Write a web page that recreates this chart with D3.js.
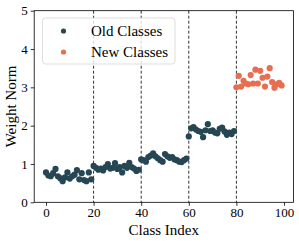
<!DOCTYPE html>
<html><head><meta charset="utf-8">
<script src="https://cdn.jsdelivr.net/npm/d3@7"></script>
</head>
<body style="margin:0;background:#fff">
<svg id="c" width="299" height="243" style="display:block"></svg>
<script>
const oldValues = [
  0.78,0.70,0.68,0.76,0.87,0.68,0.63,0.55,0.65,0.78,0.62,0.68,0.72,0.84,0.60,0.76,0.58,0.55,0.78,0.60,
  0.95,0.90,0.85,0.88,0.83,0.92,1.00,0.88,0.90,1.02,0.87,0.92,0.78,0.95,0.90,1.03,0.92,0.88,0.82,0.85,
  1.12,1.10,1.06,1.18,1.22,1.28,1.20,1.15,1.10,1.06,1.26,1.20,1.16,1.18,1.12,1.10,1.06,1.05,1.10,1.14,
  1.72,1.93,1.96,1.90,1.86,1.84,1.70,1.88,2.04,1.86,1.88,1.82,1.80,1.92,1.95,1.85,1.76,1.82,1.78,1.86
];
const newValues = [
  3.00,3.30,3.02,3.17,3.10,3.08,3.32,3.10,3.46,3.10,3.43,3.25,3.02,3.28,3.50,3.14,2.99,3.08,3.12,3.05
];
const xTicks = [0,20,40,60,80,100];
const yTicks = [0,1,2,3,4,5];
const taskBoundaries = [20,40,60,80];
const seriesNames = ["Old Classes","New Classes"];
const seriesColors = ["#264653","#e76f51"];
const FONT = '"Liberation Serif"';

const svg = d3.select("#c");
const pL = 34.2, pR = 293.4, pT = 10.7, pB = 202.3;
const x = d3.scaleLinear().domain([-4.95,103.95]).range([pL,pR]);
const y = d3.scaleLinear().domain([0,5]).range([pB,pT]);

svg.append("g").selectAll("line").data(taskBoundaries).join("line")
  .attr("x1",d=>x(d)).attr("x2",d=>x(d)).attr("y1",pT).attr("y2",pB)
  .attr("stroke","#333").attr("stroke-width",1).attr("stroke-dasharray","3,2");

const oldPts = oldValues.map((v,i)=>({i, v}));
const newPts = newValues.map((v,i)=>({i: i+oldValues.length, v}));

svg.append("g").selectAll("circle").data(oldPts).join("circle")
  .attr("cx",d=>x(d.i)).attr("cy",d=>y(d.v)).attr("r",3.1).attr("fill",seriesColors[0]);
svg.append("g").selectAll("circle").data(newPts).join("circle")
  .attr("cx",d=>x(d.i)).attr("cy",d=>y(d.v)).attr("r",3.1).attr("fill",seriesColors[1]);

const xAxis = svg.append("g").attr("transform",`translate(0,${pB})`)
  .call(d3.axisBottom(x).tickValues(xTicks).tickFormat(d3.format("d")).tickSize(3.5).tickPadding(2).tickSizeOuter(0));
const yAxis = svg.append("g").attr("transform",`translate(${pL},0)`)
  .call(d3.axisLeft(y).tickValues(yTicks).tickFormat(d3.format("d")).tickSize(3.5).tickPadding(3).tickSizeOuter(0));
[xAxis,yAxis].forEach(a=>{
  a.select(".domain").remove();
  a.selectAll("text").attr("fill","#000").style("font-family",FONT).style("font-size","13px");
  a.selectAll("line").attr("stroke","#000").attr("stroke-width",0.8);
});
svg.append("rect").attr("x",pL).attr("y",pT).attr("width",pR-pL).attr("height",pB-pT)
  .attr("fill","none").attr("stroke","#000").attr("stroke-width",0.8);

svg.append("text").attr("x",(pL+pR)/2).attr("y",235).attr("text-anchor","middle")
  .style("font-family",FONT).style("font-size","15px").text("Class Index");
svg.append("text").attr("transform",`translate(16,${(pT+pB)/2}) rotate(-90)`)
  .attr("text-anchor","middle").style("font-family",FONT).style("font-size","15px").text("Weight Norm");

const lg = svg.append("g");
lg.append("rect").attr("x",42.5).attr("y",18).attr("width",132.5).attr("height",46).attr("rx",3)
  .attr("fill","#fff").attr("fill-opacity",0.8).attr("stroke","#d6d6d6").attr("stroke-width",0.8);
seriesNames.forEach((n,k)=>{
  const cy = 31 + k*21;
  lg.append("circle").attr("cx",63.5).attr("cy",cy).attr("r",2.6).attr("fill",seriesColors[k]);
  lg.append("text").attr("x",91).attr("y",cy+5).style("font-family",FONT).style("font-size","15px").text(n);
});
</script>
</body></html>
